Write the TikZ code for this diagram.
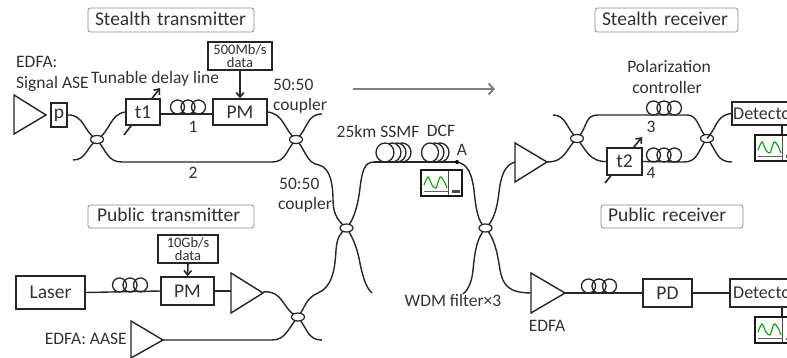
\documentclass[tikz,border=0pt]{standalone}
\usepackage{fontspec}
\setmainfont{Carlito}
\usetikzlibrary{arrows.meta}
\definecolor{txt}{RGB}{50,50,50}
\tikzset{
 x=1pt,y=-1pt,
 fib/.style={line width=1.4pt,black!85},
 box/.style={draw=black!85,line width=1.4pt,fill=white,inner sep=0pt,text=txt,font=\fontsize{19.5}{20}\selectfont},
 databox/.style={box,font=\fontsize{14.5}{13.5}\selectfont,align=center},
 title/.style={draw=black!45,line width=.8pt,rounded corners=2.5pt,fill=white,inner ysep=0pt,text=txt,align=left,font=\fontsize{19.5}{20}\selectfont},
 lbl/.style={inner sep=0pt,text=txt,font=\fontsize{17.5}{18}\selectfont},
 amp/.style={draw=black!85,line width=1.4pt,fill=white,line join=miter},
 coil/.style={draw=black!85,line width=1.3pt},
 kn/.style={draw=black!85,line width=1.2pt,fill=white},
 arr/.style={line width=1.6pt,black!85,-{Straight Barb[length=4.5pt,width=7.5pt]}}
}
\newcommand{\pcoil}[2]{\foreach \dx in {-10.5,0,10.5}{\draw[coil] (#1+\dx,#2-7) circle[radius=7];}}
\newcommand{\cpl}[2]{\draw[kn] (#1,#2) ellipse[x radius=6.5,y radius=4];}
\newcommand{\oscil}[3]{%
 \begin{scope}[shift={(#1,#2)}]
 \draw[line width=1.6pt,black!90,fill=white] (0,0) rectangle (#3,26);
 \draw[line width=.8pt,black!60] (0.07*#3,21.5) -- (0.68*#3,21.5);
 \draw[line width=.8pt,black!70] (0.68*#3,1) -- (0.68*#3,25);
 \fill[black!70] (0.76*#3,20.5) rectangle (0.94*#3,23);
 \draw[line width=1.1pt,green!65!black] plot[smooth] coordinates {(3,15) (7,7) (11,15) (15,18) (19,7) (23,11) (26,18)};
 \end{scope}}
\begin{document}
\begin{tikzpicture}
\useasboundingbox (0,0) rectangle (787,358);
% titles
\node[title,inner xsep=7pt,text width=152pt] (t1) at (171,20) {\rule[-6pt]{0pt}{24pt}\mbox{Stealth transmitter}};
\node[title,inner xsep=9pt,text width=148pt] (t2) at (171,216.5) {\rule[-6pt]{0pt}{23pt}\mbox{Public transmitter}};
\node[title,inner xsep=7pt,text width=129pt] (t3) at (666.5,20) {\rule[-6pt]{0pt}{24pt}\mbox{Stealth receiver}};
\node[title,inner xsep=7pt,text width=128pt] (t4) at (672,216.5) {\rule[-6pt]{0pt}{23pt}\mbox{Public receiver}};
% direction arrow
\coordinate (ga) at (353,89); \coordinate (gb) at (495,89);
\draw[line width=2pt,black!50,-{Straight Barb[length=5pt,width=11pt]}] (ga) -- (gb);
% couplers' positions
\coordinate (c1) at (97,139.5);
\coordinate (c2) at (296,139.5);
\coordinate (c3) at (346.5,228);
\coordinate (c4) at (298,317);
\coordinate (c5) at (485.5,228);
\coordinate (c6) at (577,138.5);
\coordinate (c7) at (707,138.5);
% Stealth transmitter
\coordinate (a1s) at (124,135); \coordinate (a1e) at (160,88);
\draw[arr] (a1s) -- (a1e);
\draw[amp] (14,95) -- (46,115) -- (14,134) -- cycle;
\node[box,minimum width=16,minimum height=24] (p) at (59,115) {p};
\node[box,minimum width=34,minimum height=26] (td1) at (143,112) {t1};
\node[box,minimum width=54,minimum height=26] (pm1) at (240,112) {PM};
\node[databox,minimum width=64,minimum height=28] (d1) at (240,56) {500Mb/s\\data};
\draw[arr] (d1.south) -- (pm1.north);
\draw[fib] (p.east) .. controls (84,114) and (84,133) .. (c1);
\draw[fib] (73,160) .. controls (86,160) and (86,148) .. (c1);
\draw[fib] (td1.west) .. controls (110,114) and (110,132) .. (c1);
\draw[fib] (c1) .. controls (107,152) and (108,162) .. (122,162) -- (272,162) .. controls (286,162) and (286,150) .. (c2);
\draw[fib] (td1.east |- 0,114) -- (pm1.west |- 0,114);
\pcoil{188}{114}
\draw[fib] (pm1.east) .. controls (284,114) and (284,130) .. (c2);
\draw[fib] (c2) .. controls (308,130) and (306,114) .. (322,114);
\draw[fib] (c2) .. controls (306,150) and (306,163) .. (319,165) .. controls (332,168) and (333,190) .. (333,200) .. controls (333,215) and (339,222) .. (c3);
\cpl{97}{139.5}\cpl{296}{139.5}
\node[lbl,anchor=west] (l1) at (91,79) {Tunable delay line};
\node[lbl,anchor=west] (l2) at (16,62) {EDFA:};
\node[lbl,anchor=west] (l3) at (16,84) {Signal ASE};
\node[lbl] (n1) at (193,127) {1};
\node[lbl] (n2) at (193,173) {2};
\node[lbl,anchor=west] (l4) at (273,85) {50:50};
\node[lbl,anchor=west] (l5) at (273,106) {coupler};
\node[lbl,anchor=west] (l6) at (279,184) {50:50};
\node[lbl,anchor=west] (l7) at (278,205) {coupler};
% Public transmitter
\node[box,line width=1.7pt,minimum width=69,minimum height=33] (laser) at (50.5,292.5) {Laser};
\node[box,minimum width=53,minimum height=28] (pm2) at (187.5,291) {PM};
\node[databox,minimum width=60,minimum height=28] (d2) at (188,249) {10Gb/s\\data};
\draw[arr] (d2.south) -- (pm2.north);
\draw[fib] (laser.east) -- (pm2.west);
\pcoil{130}{292}
\draw[amp] (231,273) -- (263,293) -- (231,313) -- cycle;
\draw[fib] (pm2.east) -- (231,291);
\draw[amp] (131,321) -- (163,340) -- (131,358) -- cycle;
\draw[fib] (263,292) .. controls (284,290) and (282,310) .. (c4);
\draw[fib] (163,340) -- (272,340) .. controls (286,340) and (288,328) .. (c4);
\draw[fib] (c4) .. controls (308,330) and (308,340) .. (322,340);
\draw[fib] (c4) .. controls (306,306) and (306,298) .. (318,293) .. controls (332,287) and (335,270) .. (336,250) .. controls (337,238) and (340,233) .. (c3);
\draw[fib] (c3) .. controls (352,236) and (356,245) .. (359,258) .. controls (362,275) and (366,288) .. (372,293);
\cpl{298}{317}
\node[lbl,anchor=east] (l8) at (127,339) {EDFA: AASE};
% Trunk
\draw[fib] (c3) .. controls (354,220) and (358,205) .. (360,188) .. controls (362,172) and (364,162) .. (374,162) -- (456,162) .. controls (468,163) and (472,175) .. (474,190) .. controls (476,210) and (478,222) .. (c5);
\draw[fib] (c5) .. controls (493,222) and (497,210) .. (499,192) .. controls (501,175) and (505,165) .. (515,162);
\cpl{346.5}{228}
\foreach \xx/\rr in {402/9,397/9,392/9,385/9}{\draw[coil,fill=white] (\xx,152.5) ellipse[x radius=\rr,y radius=9.5];}
\foreach \xx/\rr in {440/9,435/9,430/8.5}{\draw[coil,fill=white] (\xx,152.5) ellipse[x radius=\rr,y radius=9.5];}
\draw[fib] (374,162) -- (456,162);
\node[lbl] (l9) at (378,131) {25km SSMF};
\node[lbl] (l10) at (441,131) {DCF};
\node[lbl] (la) at (462,150) {A};
\fill[black] (457,162) circle[radius=2];
\oscil{421}{170}{41}
% lower receiver
\draw[fib] (c5) .. controls (477,238) and (475,250) .. (473,270) .. controls (472,282) and (468,290) .. (463,294);
\draw[fib] (c5) .. controls (494,238) and (497,250) .. (500,270) .. controls (503,285) and (508,293) .. (532,293);
\cpl{485.5}{228}
\node[lbl] (l11) at (453,300) {WDM filter×3};
\draw[amp] (531,273) -- (565,293) -- (531,313) -- cycle;
\node[lbl] (l12) at (547,326) {EDFA};
\node[box,minimum width=49,minimum height=28] (pd) at (667.5,293) {PD};
\draw[fib] (565,293) -- (pd.west);
\pcoil{599}{293}
% Stealth receiver
\coordinate (a2s) at (605,183); \coordinate (a2e) at (642,137);
\draw[arr] (a2s) -- (a2e);
\draw[amp] (515,143) -- (547,162) -- (515,182) -- cycle;
\draw[fib] (547,162) .. controls (566,162) and (566,148) .. (c6);
\draw[fib] (c6) .. controls (566,128) and (566,115) .. (553,115);
\draw[fib] (c6) .. controls (588,128) and (584,115) .. (598,115) -- (687,115) .. controls (698,115) and (698,128) .. (c7);
\node[box,minimum width=35,minimum height=27] (td2) at (624.5,161.5) {t2};
\draw[fib] (c6) .. controls (586,150) and (590,162) .. (td2.west);
\draw[fib] (td2.east) -- (684,162) .. controls (698,162) and (698,150) .. (c7);
\draw[fib] (c7) .. controls (717,150) and (716,162) .. (732,162);
\cpl{577}{138.5}\cpl{707}{138.5}
\pcoil{664}{115}
\pcoil{664}{162}
\node[lbl] (n3) at (651,127) {3};
\node[lbl] (n4) at (651,173) {4};
\node[lbl] (l13) at (669,66) {Polarization};
\node[lbl] (l14) at (667,87) {controller};
% Detectors
\draw[fib] (782,120) -- (782,140);
\draw[fib] (782,300) -- (782,322);
\node[box,minimum width=70,minimum height=23] (dbox1) at (767,113.5) {};
\node[box,minimum width=70,minimum height=28] (dbox2) at (765,293) {};
\node[lbl,anchor=west,font=\fontsize{18}{18}\selectfont] (det1) at (733,114) {Detector};
\node[lbl,anchor=west,font=\fontsize{18}{18}\selectfont] (det2) at (733,293) {Detector};
\draw[fib] (c7) .. controls (717,128) and (716,115) .. (dbox1.west);
\draw[fib] (pd.east) -- (dbox2.west);
\oscil{755}{135}{41}
\oscil{755}{317}{41}
\end{tikzpicture}
\end{document}
